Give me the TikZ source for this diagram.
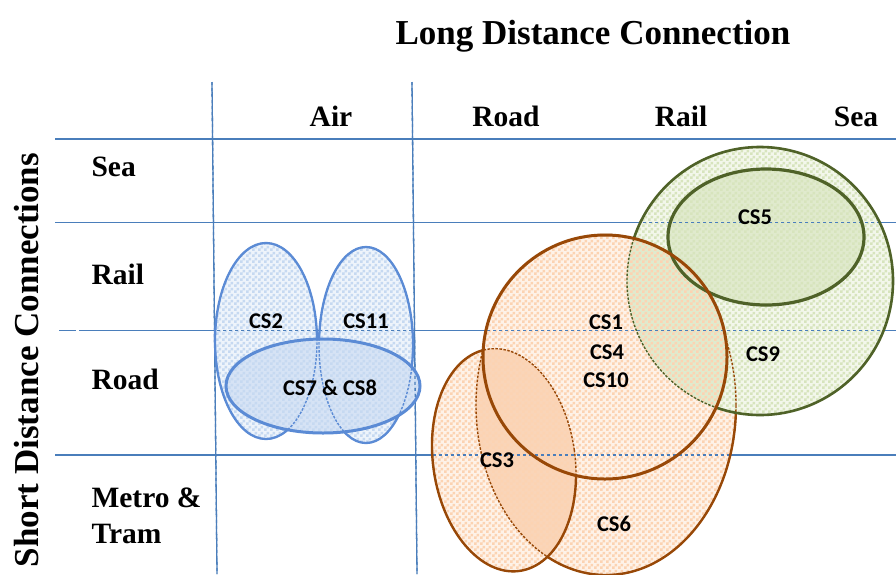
\documentclass[tikz,border=0pt]{standalone}
\usepackage{fontspec}
\setmainfont{Liberation Serif}
\newfontfamily\csfont{Carlito}
\usetikzlibrary{patterns}
\pgfdeclarepatternformonly{checkthree}{\pgfpointorigin}{\pgfqpoint{6pt}{6pt}}{\pgfqpoint{6pt}{6pt}}{%
  \pgfpathrectangle{\pgfpointorigin}{\pgfqpoint{3pt}{3pt}}%
  \pgfpathrectangle{\pgfqpoint{3pt}{3pt}}{\pgfqpoint{3pt}{3pt}}%
  \pgfusepath{fill}}
\definecolor{gridblue}{HTML}{4A7EBB}
\definecolor{bline}{HTML}{5B8BD5}
\definecolor{bchk}{HTML}{C6D9F1}
\definecolor{bbasedark}{HTML}{D6E3F5}
\definecolor{oline}{HTML}{984807}
\definecolor{ochk}{HTML}{FCD3B2}
\definecolor{obasedark}{HTML}{FAD5B8}
\definecolor{gline}{HTML}{4F6228}
\definecolor{gchk}{HTML}{D7E4BD}
\definecolor{gbasedark}{HTML}{E0EACD}
\colorlet{bbase}{bchk!30!white}
\colorlet{obase}{ochk!30!white}
\colorlet{gbase}{gchk!30!white}
\def\everything{(-100,-100) -- (1000,-100) -- (1000,700) -- (-100,700) -- cycle}
\def\sCSii{(266,341) ellipse [x radius=51pt, y radius=98pt]}
\def\sCSxi{(366,345) ellipse [x radius=47pt, y radius=98pt]}
\def\sCSvii{(323,386) ellipse [x radius=97pt, y radius=47pt]}
\def\sCSvi{(606,405) ellipse [x radius=130pt, y radius=170pt]}
\def\sCSiii{(504,460) ellipse [x radius=71pt, y radius=112pt, rotate=8]}
\def\sCSi{(605,357) ellipse [x radius=122pt, y radius=122pt]}
\def\sCSix{(760,281) ellipse [x radius=133pt, y radius=134pt]}
\def\sCSv{(766,237) ellipse [x radius=98pt, y radius=68pt]}
\begin{document}
\begin{tikzpicture}[x=1pt,y=-1pt,
  hdr/.style={font=\bfseries\fontsize{29.5}{32}\selectfont, anchor=base},
  rowlbl/.style={font=\bfseries\fontsize{29.5}{32}\selectfont, anchor=base west},
  cslbl/.style={font=\csfont\bfseries\fontsize{22.5}{24}\selectfont, anchor=base},
  hiddenline/.style={dash pattern=on 2.5pt off 1.5pt, line width=1.4pt},
  gridthick/.style={gridblue, line width=2.4pt},
  gridthin/.style={gridblue, line width=1pt},
  gridvert/.style={gridblue, line width=1.3pt},
  gridover/.style={dash pattern=on 3pt off 3pt},
  bluechk/.style={pattern=checkthree, pattern color=bchk},
  orangechk/.style={pattern=checkthree, pattern color=ochk},
  greenchk/.style={pattern=checkthree, pattern color=gchk},
]
\useasboundingbox (0,0) rectangle (896,574);
\fill[white] (0,0) rectangle (896,574);

% grid
\coordinate (h1a) at (55,139);  \coordinate (h1b) at (896,139);
\coordinate (h2a) at (55,222);  \coordinate (h2b) at (896,222);
\coordinate (h3a) at (59,330);  \coordinate (h3m) at (76,330);
\coordinate (h3n) at (79,330);  \coordinate (h3b) at (896,330);
\coordinate (h4a) at (55,455);  \coordinate (h4b) at (896,455);
\coordinate (v1a) at (212,82);  \coordinate (v1b) at (217,574);
\coordinate (v2a) at (412,82);  \coordinate (v2b) at (417,574);
\newcommand\gridlines[1]{%
  \draw[gridthick,#1] (h1a) -- (h1b);
  \draw[gridthin,#1] (h2a) -- (h2b);
  \draw[gridthin,#1] (h3a) -- (h3m);
  \draw[gridthin,#1] (h3n) -- (h3b);
  \draw[gridthick,#1] (h4a) -- (h4b);
  \draw[gridvert,#1] (v1a) -- (v1b);
  \draw[gridvert,#1] (v2a) -- (v2b);}
\gridlines{}

% fills (base, then checker pattern)
\fill[bbase] \sCSii;  \fill[bluechk] \sCSii;
\fill[bbase] \sCSxi;  \fill[bluechk] \sCSxi;
\fill[bbasedark] \sCSvii; \fill[bluechk] \sCSvii;
\fill[obase] \sCSvi;  \fill[orangechk] \sCSvi;
\fill[obase] \sCSiii; \fill[orangechk] \sCSiii;
\fill[gbase] \sCSix;  \fill[greenchk] \sCSix;
\fill[gbasedark] \sCSv; \fill[greenchk] \sCSv;
\fill[obase] \sCSi;   \fill[orangechk] \sCSi;
\begin{scope}
  \clip \sCSi;
  \fill[gbasedark] \sCSix;
  \fill[orangechk] \sCSix;
\end{scope}
\begin{scope}
  \clip \sCSiii;
  \fill[obasedark] \sCSvi;
  \fill[orangechk] \sCSvi;
\end{scope}

% grid seen through the fills
\gridlines{gridover}

% blue outlines
\draw[bline, hiddenline] \sCSii;
\draw[bline, hiddenline] \sCSxi;
\begin{scope}
  \clip \everything \sCSvii;
  \draw[bline, line width=2.3pt] \sCSii;
  \draw[bline, line width=2.3pt] \sCSxi;
\end{scope}
\draw[bline, line width=3pt] \sCSvii;

% CS6
\begin{scope}
  \clip \everything \sCSi;
  \draw[oline, hiddenline] \sCSvi;
\end{scope}
\begin{scope}
  \clip \everything \sCSi;
  \clip \everything \sCSiii;
  \clip \everything \sCSix;
  \draw[oline, line width=2.4pt] \sCSvi;
\end{scope}
% CS3
\draw[oline, hiddenline] \sCSiii;
\begin{scope}
  \clip \everything \sCSi;
  \draw[oline, line width=2.4pt] \sCSiii;
\end{scope}
% CS9
\draw[gline, hiddenline] \sCSix;
\begin{scope}
  \clip \everything \sCSi;
  \draw[gline, line width=2.6pt] \sCSix;
\end{scope}
% CS5, CS1
\draw[gline, line width=3.2pt] \sCSv;
\draw[oline, line width=3pt] \sCSi;

% headings
\node[font=\bfseries\fontsize{35}{38}\selectfont, anchor=base] (title) at (593,44) {Long Distance Connection};
\node[font=\bfseries\fontsize{35}{38}\selectfont, anchor=base, rotate=90] (sdc) at (38,360) {Short Distance Connections};
\node[hdr] (cAir) at (331,126) {Air};
\node[hdr] (cRoad) at (506,126) {Road};
\node[hdr] (cRail) at (681,126) {Rail};
\node[hdr] (cSea) at (856,126) {Sea};
\node[rowlbl] (rSea) at (88,176) {Sea};
\node[rowlbl] (rRail) at (88,284) {Rail};
\node[rowlbl] (rRoad) at (88,389) {Road};
\node[rowlbl] (rMetro) at (88,507) {Metro \&};
\node[rowlbl] (rTram) at (88,543) {Tram};

% case labels
\node[cslbl] (cs2) at (266,328) {CS2};
\node[cslbl] (cs11) at (366,328) {CS11};
\node[cslbl] (cs78) at (330,395) {CS7 \& CS8};
\node[cslbl] (cs1) at (606,329) {CS1};
\node[cslbl] (cs4) at (607,359) {CS4};
\node[cslbl] (cs10) at (606,387) {CS10};
\node[cslbl] (cs5) at (755,224) {CS5};
\node[cslbl] (cs9) at (763,361) {CS9};
\node[cslbl] (cs3) at (497,467) {CS3};
\node[cslbl] (cs6) at (614,531) {CS6};
\end{tikzpicture}
\end{document}
